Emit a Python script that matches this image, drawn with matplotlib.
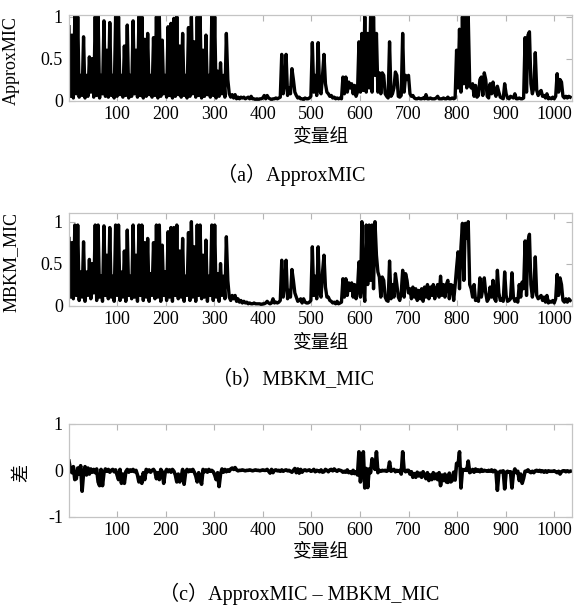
"""Plot ApproxMIC, MBKM_MIC and their difference over the variable groups."""
import numpy as np
import matplotlib.pyplot as plt

# -------------------------------------------------------
# Data: values in hundredths, one value read every 3 groups.
# -------------------------------------------------------
approx_mic = [
    88, 5, 78, 3, 100, 8, 100, 4, 30, 6,
    76, 3, 30, 5, 52, 10, 50, 4, 100, 6,
    100, 3, 30, 8, 95, 5, 60, 4, 93, 6,
    30, 3, 100, 5, 100, 7, 30, 4, 65, 6,
    90, 3, 30, 5, 95, 8, 60, 4, 100, 6,
    100, 3, 73, 5, 80, 7, 30, 4, 75, 6,
    100, 3, 100, 5, 72, 8, 30, 4, 88, 6,
    92, 3, 98, 5, 100, 7, 65, 4, 80, 6,
    30, 3, 87, 5, 100, 8, 70, 4, 100, 6,
    100, 3, 60, 5, 78, 7, 30, 4, 100, 6,
    100, 3, 35, 5, 45, 8, 30, 4, 80, 25,
    8, 4, 7, 3, 7, 2, 4, 2, 4, 3,
    4, 2, 3, 4, 2, 5, 2, 2, 1, 2,
    1, 2, 2, 3, 6, 2, 6, 3, 2, 1,
    2, 2, 3, 2, 3, 4, 55, 8, 20, 55,
    6, 15, 8, 38, 25, 10, 6, 3, 4, 2,
    2, 1, 3, 2, 2, 3, 5, 69, 10, 30,
    6, 69, 12, 8, 30, 55, 20, 10, 8, 5,
    6, 3, 4, 2, 3, 2, 3, 2, 28, 8,
    28, 10, 22, 15, 20, 8, 18, 5, 10, 70,
    10, 80, 12, 100, 10, 80, 15, 100, 10, 100,
    30, 80, 10, 33, 8, 33, 30, 8, 5, 3,
    70, 5, 8, 15, 34, 30, 5, 4, 6, 80,
    10, 30, 25, 30, 8, 5, 6, 3, 2, 2,
    3, 2, 2, 3, 2, 7, 2, 2, 3, 2,
    2, 2, 3, 5, 2, 2, 2, 3, 2, 2,
    4, 2, 2, 3, 2, 3, 60, 15, 85, 10,
    100, 20, 100, 15, 100, 20, 15, 20, 5, 18,
    4, 6, 25, 28, 6, 33, 25, 5, 3, 20,
    8, 22, 10, 5, 17, 10, 4, 3, 2, 20,
    8, 3, 2, 5, 4, 3, 8, 2, 2, 3,
    2, 2, 3, 75, 10, 78, 82, 20, 8, 15,
    57, 12, 6, 10, 12, 5, 6, 3, 8, 2,
    3, 2, 4, 2, 5, 32, 10, 25, 22, 5,
    3, 5, 3, 5, 4,
]
mbkm_mic = [
    80, 10, 75, 8, 96, 12, 96, 6, 40, 10,
    76, 5, 40, 12, 55, 8, 50, 15, 96, 6,
    96, 10, 35, 5, 95, 12, 60, 8, 93, 10,
    35, 5, 96, 12, 96, 6, 40, 10, 65, 5,
    90, 12, 35, 8, 96, 10, 60, 5, 96, 12,
    96, 6, 75, 10, 80, 5, 38, 12, 75, 8,
    96, 10, 96, 5, 72, 12, 40, 6, 88, 10,
    93, 5, 93, 12, 96, 8, 65, 10, 80, 5,
    35, 12, 87, 6, 100, 10, 70, 5, 96, 12,
    96, 8, 60, 10, 78, 5, 35, 12, 96, 6,
    96, 10, 38, 5, 50, 12, 35, 8, 82, 30,
    10, 6, 12, 8, 12, 5, 8, 4, 6, 3,
    5, 3, 4, 2, 3, 2, 2, 3, 2, 2,
    2, 2, 1, 2, 2, 3, 5, 3, 2, 3,
    8, 3, 4, 3, 4, 6, 54, 10, 25, 54,
    8, 18, 10, 43, 30, 15, 10, 5, 6, 8,
    3, 8, 4, 3, 3, 4, 6, 70, 12, 35,
    8, 70, 15, 10, 40, 60, 22, 10, 10, 6,
    5, 3, 4, 2, 5, 2, 3, 4, 32, 10,
    32, 12, 27, 18, 27, 10, 25, 8, 20, 52,
    10, 100, 20, 5, 96, 25, 96, 30, 96, 20,
    100, 60, 40, 34, 10, 34, 30, 10, 6, 5,
    53, 8, 25, 10, 38, 25, 10, 6, 15, 42,
    10, 38, 30, 15, 20, 8, 22, 10, 20, 6,
    18, 8, 20, 5, 22, 10, 25, 8, 22, 12,
    25, 8, 20, 25, 10, 35, 12, 25, 10, 25,
    30, 8, 25, 24, 6, 24, 45, 64, 20, 70,
    98, 30, 98, 80, 100, 25, 20, 10, 25, 6,
    8, 5, 33, 10, 20, 33, 15, 5, 8, 22,
    10, 30, 8, 5, 42, 15, 6, 8, 5, 40,
    12, 5, 6, 8, 39, 10, 5, 8, 4, 25,
    10, 28, 20, 77, 12, 77, 85, 25, 10, 20,
    58, 12, 8, 10, 12, 6, 10, 4, 12, 3,
    5, 4, 6, 3, 8, 37, 12, 33, 25, 6,
    4, 8, 4, 8, 6,
]
diff_mic = [
    20, 2, -5, 8, -20, -18, 5, -8, 10, -45,
    -5, 8, -10, 5, -8, 3, -4, 2, -5, 3,
    -25, -33, 2, -33, -5, 3, -2, 2, -4, 0,
    2, -3, 1, -10, -20, 2, -28, -8, -28, -3,
    2, -4, 1, -2, 2, -3, 0, -10, -25, -15,
    -28, -5, -20, 2, -3, 1, -4, 0, 2, -3,
    -18, -5, -20, 2, -3, -28, -5, 2, -3, 1,
    -4, 2, -2, -10, -25, -8, -25, -15, 2, -30,
    -5, 2, -3, 1, -2, 2, -4, -12, -25, -5,
    -20, -30, 2, -3, 1, -4, 2, -2, 0, -3,
    -10, -20, -5, -35, -8, 3, -4, 2, -3, 1,
    -2, 3, 5, 2, 6, 1, -1, 0, 0, 1,
    0, -1, 0, 0, 1, 0, -1, 0, 1, 0,
    0, -1, 0, 1, 0, 0, 2, -2, -6, 2,
    -5, 0, 1, -1, 0, -2, 1, -2, 0, 1,
    -1, 0, -2, -4, 0, 4, -5, 3, -6, 2,
    -4, 0, 1, -1, 0, 1, -2, -1, 2, -3,
    0, -1, -3, 1, -4, -3, 2, 0, -3, 1,
    2, -1, 3, 0, -2, 1, 0, -1, -4, -2,
    -4, 1, -5, -3, -7, 0, -7, -3, -10, 40,
    -25, 5, 40, -38, 4, -37, 3, -5, 25, 15,
    2, 40, -5, 0, -2, 0, -1, 0, -2, 0,
    18, -2, 0, 2, -3, 0, -2, 0, -8, 40,
    0, -3, 0, 0, -8, -3, -15, -7, -15, -4,
    -12, -6, -15, -3, -10, -18, -5, -22, -10, -20,
    -5, -18, -8, -20, -5, -33, -10, -22, -8, -25,
    -26, -6, -25, -22, -4, -21, 15, 11, 40, -38,
    2, 0, 2, 0, 20, -5, -3, 2, -4, 3,
    -2, 1, -3, 2, -2, 0, -1, -2, 0, -2,
    1, -3, 0, -2, -43, -5, -2, -3, -1, -40,
    -4, -2, -4, -3, -38, -6, 3, -5, -2, -22,
    -8, -28, -17, -2, -2, 1, -3, -5, -2, -5,
    -1, 0, -2, 0, -3, -1, -4, -1, -4, -1,
    -2, -2, -2, -1, -3, -5, -2, -8, -3, -1,
    -1, -3, -1, -3, -2,
]
group_step = 3
x_ticks = [100, 200, 300, 400, 500, 600, 700, 800, 900, 1000]
ylabels = ["ApproxMIC", "MBKM_MIC", "差"]
captions = ["（a）ApproxMIC", "（b）MBKM_MIC", "（c）ApproxMIC – MBKM_MIC"]
xlabel = "变量组"

# -------------------------------------------------------
# Plot setup.
# -------------------------------------------------------
plt.rcParams["font.family"] = ["Liberation Serif", "Noto Sans CJK SC"]
W, H = 584, 612
fig = plt.figure(figsize=(W / 100, H / 100), dpi=100)

def px_box(left, top, right, bottom):
    return [left / W, 1 - bottom / H, (right - left) / W, (bottom - top) / H]

series = [approx_mic, mbkm_mic, diff_mic]
boxes = [px_box(68.5, 15, 571.7, 100.5),
         px_box(68.5, 213.3, 571.7, 305.5),
         px_box(68.5, 424, 571.7, 516.7)]
ylims = [(0, 1.02), (0, 1.1), (-1, 1)]
yticks = [[0, 0.5, 1], [0, 0.5, 1], [-1, 0, 1]]
yticklabels = [["0", "0.5", "1"], ["0", "0.5", "1"], ["-1", "0", "1"]]
linewidths = [2.4, 2.4, 2.6]
xlabel_y = [136, 342, 551]
caption_pos = [(291, 175), (293, 380), (299, 594)]
ylabel_x = [-0.097, -0.097, -0.075]

# -------------------------------------------------------
# Draw the three panels.
# -------------------------------------------------------
for k in range(3):
    vals = np.array(series[k]) / 100.0
    groups = 1 + group_step * np.arange(len(vals))
    ax = fig.add_axes(boxes[k])
    ax.plot(groups, vals, color="black", lw=linewidths[k])
    ax.set_xlim(0, 1036)
    ax.set_ylim(*ylims[k])
    ax.set_xticks(x_ticks)
    ax.set_yticks(yticks[k])
    ax.set_yticklabels(yticklabels[k])
    ax.tick_params(direction="in", top=True, right=True, length=4,
                   color="#b5b5b5", labelsize=13, pad=4)
    for s in ax.spines.values():
        s.set_color("#c4c4c4")
        s.set_linewidth(0.9)
    if k < 2:
        ax.set_ylabel(ylabels[k], fontsize=13)
    else:
        ax.set_ylabel(ylabels[k], fontsize=13, family=["Noto Sans CJK SC"])
    ax.yaxis.set_label_coords(ylabel_x[k], 0.47)
    fig.text(320 / W, 1 - xlabel_y[k] / H, xlabel, fontsize=13.5,
             family=["Noto Sans CJK SC"], ha="center", va="center")
    cx, cy = caption_pos[k]
    fig.text(cx / W, 1 - cy / H, captions[k], fontsize=14.5,
             ha="center", va="center")

plt.savefig("out.png", dpi=100)
plt.close()
